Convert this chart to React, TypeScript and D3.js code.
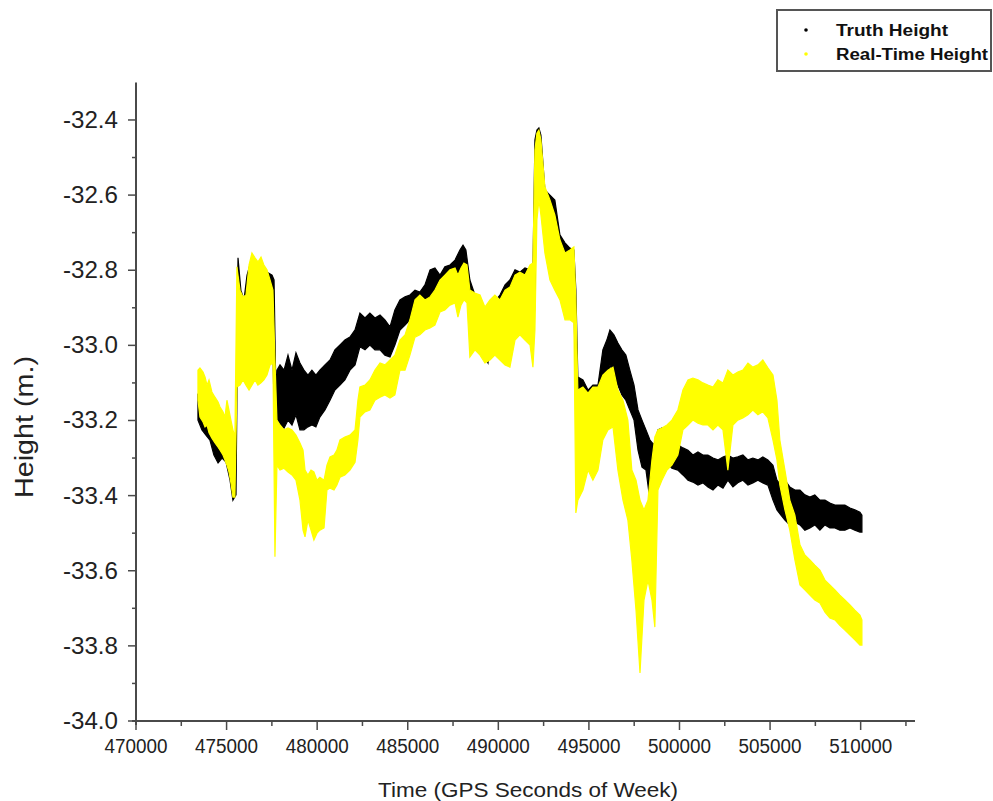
import React from 'react';
import * as d3 from 'd3';

// [GPS seconds of week, upper height, lower height] — envelope of the dense point cloud
const truthHeight: [number, number, number][] = [
  [473420, -33.132, -33.199], [473640, -33.146, -33.225], [473860, -33.172, -33.239], [474080, -33.199, -33.252],
  [474300, -33.212, -33.292], [474530, -33.217, -33.313], [474750, -33.225, -33.300], [474970, -33.233, -33.311],
  [475190, -33.252, -33.359], [475350, -33.265, -33.412], [475520, -33.292, -33.398],
  [475630, -32.767, -32.853], [475790, -32.853, -33.039], [475960, -32.879, -33.039], [476130, -32.813, -32.932],
  [476290, -32.786, -32.879], [476460, -32.786, -32.853], [476620, -32.778, -32.839], [476840, -32.794, -32.853],
  [477060, -32.799, -32.853], [477290, -32.807, -32.853], [477510, -32.813, -32.879], [477620, -32.826, -33.172],
  [477730, -33.146, -33.225],
  [477780, -33.066, -33.199], [477950, -33.052, -33.212], [478170, -33.066, -33.220], [478390, -33.026, -33.199],
  [478610, -33.066, -33.212], [478830, -33.020, -33.185], [479050, -33.047, -33.225], [479270, -33.066, -33.225],
  [479490, -33.079, -33.217], [479710, -33.066, -33.212], [479930, -33.079, -33.217], [480150, -33.066, -33.191],
  [480430, -33.052, -33.172], [480710, -33.039, -33.146], [480980, -33.012, -33.119], [481260, -32.999, -33.106],
  [481530, -32.986, -33.092], [481810, -32.978, -33.066], [482090, -32.959, -33.052], [482360, -32.914, -33.004],
  [482640, -32.927, -33.012], [482910, -32.914, -32.999], [483190, -32.927, -33.012], [483470, -32.919, -33.012],
  [483740, -32.932, -33.026], [484020, -32.951, -33.031], [484290, -32.906, -32.999], [484570, -32.879, -32.959],
  [484850, -32.871, -32.946], [485120, -32.866, -32.932], [485400, -32.853, -32.925], [485670, -32.858, -32.919],
  [485950, -32.839, -32.906], [486230, -32.799, -32.879], [486500, -32.794, -32.874], [486780, -32.813, -32.879],
  [487050, -32.791, -32.871], [487330, -32.786, -32.853], [487610, -32.773, -32.839], [487880, -32.746, -32.826],
  [488050, -32.733, -32.813], [488210, -32.746, -32.826], [488430, -32.826, -32.906], [488710, -32.866, -32.932],
  [488990, -32.879, -32.946], [489210, -32.932, -33.026], [489430, -32.946, -33.047], [489650, -32.893, -32.959],
  [489870, -32.879, -32.938], [490090, -32.866, -32.927], [490370, -32.839, -32.914], [490640, -32.826, -32.893],
  [490920, -32.799, -32.871], [491190, -32.805, -32.866], [491470, -32.794, -32.866], [491750, -32.799, -32.879],
  [491910, -32.799, -33.012], [492020, -32.453, -32.879], [492130, -32.427, -32.480], [492240, -32.421, -32.480],
  [492350, -32.440, -32.506], [492570, -32.586, -32.653], [492850, -32.600, -32.666], [493120, -32.613, -32.680],
  [493400, -32.706, -32.786], [493680, -32.727, -32.826], [493950, -32.741, -32.845], [494170, -32.746, -32.853],
  [494280, -32.853, -33.199], [494390, -33.084, -33.199], [494670, -33.092, -33.212], [494950, -33.119, -33.252],
  [495220, -33.106, -33.239], [495500, -33.106, -33.252], [495770, -33.012, -33.119], [495990, -32.986, -33.092],
  [496160, -32.959, -33.052], [496380, -32.972, -33.079], [496600, -32.994, -33.106], [496820, -33.012, -33.132],
  [497040, -33.026, -33.146], [497260, -33.066, -33.172], [497490, -33.106, -33.199], [497710, -33.172, -33.279],
  [497930, -33.199, -33.324], [498150, -33.225, -33.332], [498370, -33.252, -33.412], [498590, -33.265, -33.438],
  [498810, -33.225, -33.305], [499030, -33.220, -33.300], [499310, -33.239, -33.313], [499580, -33.260, -33.327],
  [499910, -33.265, -33.332], [500190, -33.273, -33.345], [500470, -33.279, -33.359], [500740, -33.292, -33.364],
  [501020, -33.284, -33.372], [501290, -33.292, -33.366], [501570, -33.292, -33.377], [501850, -33.300, -33.385],
  [502120, -33.305, -33.372], [502400, -33.297, -33.380], [502670, -33.292, -33.359], [502950, -33.300, -33.377],
  [503220, -33.297, -33.366], [503500, -33.292, -33.359], [503780, -33.305, -33.372], [504050, -33.300, -33.366],
  [504330, -33.305, -33.359], [504600, -33.297, -33.366], [504880, -33.305, -33.372], [505160, -33.319, -33.412],
  [505380, -33.359, -33.438], [505600, -33.372, -33.452], [505820, -33.359, -33.465], [506090, -33.377, -33.478],
  [506370, -33.385, -33.470], [506650, -33.385, -33.478], [506920, -33.398, -33.492], [507200, -33.404, -33.486],
  [507470, -33.398, -33.478], [507750, -33.412, -33.492], [508030, -33.412, -33.478], [508300, -33.420, -33.486],
  [508580, -33.425, -33.486], [508850, -33.425, -33.492], [509130, -33.425, -33.492], [509410, -33.433, -33.486],
  [509680, -33.438, -33.492], [509960, -33.444, -33.497], [510070, -33.452, -33.497],
];

const realTimeHeight: [number, number, number][] = [
  [473420, -33.066, -33.146], [473530, -33.060, -33.191], [473700, -33.071, -33.204], [473810, -33.084, -33.217],
  [473920, -33.106, -33.212], [474030, -33.092, -33.233], [474190, -33.124, -33.247], [474360, -33.138, -33.260],
  [474530, -33.151, -33.271], [474640, -33.164, -33.279], [474800, -33.177, -33.292], [474910, -33.191, -33.305],
  [475020, -33.146, -33.319], [475130, -33.172, -33.337], [475240, -33.199, -33.366], [475350, -33.225, -33.404],
  [475460, -33.244, -33.404],
  [475570, -32.791, -33.111], [475740, -32.853, -33.106], [475910, -32.871, -33.092], [476070, -32.866, -33.106],
  [476240, -32.786, -33.119], [476400, -32.754, -33.106], [476570, -32.767, -33.092], [476730, -32.778, -33.106],
  [476900, -32.765, -33.100], [477060, -32.786, -33.092], [477230, -32.799, -33.079], [477400, -32.826, -33.052],
  [477560, -32.853, -33.047], [477670, -33.039, -33.563],
  [477780, -33.199, -33.319], [477950, -33.212, -33.332], [478170, -33.225, -33.327], [478390, -33.220, -33.337],
  [478610, -33.225, -33.345], [478830, -33.239, -33.359], [479050, -33.260, -33.412], [479220, -33.279, -33.492],
  [479330, -33.332, -33.510], [479490, -33.345, -33.465], [479660, -33.332, -33.492], [479820, -33.337, -33.518],
  [479990, -33.359, -33.500], [480150, -33.351, -33.492], [480380, -33.359, -33.486], [480540, -33.319, -33.385],
  [480710, -33.297, -33.380], [480930, -33.292, -33.385], [481090, -33.279, -33.372], [481260, -33.252, -33.351],
  [481530, -33.244, -33.345], [481810, -33.239, -33.332], [482090, -33.225, -33.311], [482250, -33.146, -33.252],
  [482360, -33.111, -33.191], [482640, -33.106, -33.177], [482910, -33.092, -33.172], [483190, -33.066, -33.146],
  [483470, -33.047, -33.138], [483740, -33.052, -33.132], [484020, -33.039, -33.140], [484290, -33.026, -33.132],
  [484570, -32.986, -33.066], [484850, -32.972, -33.066], [485120, -32.932, -33.026], [485400, -32.879, -32.978],
  [485670, -32.866, -32.972], [485950, -32.879, -32.959], [486230, -32.871, -32.954], [486500, -32.853, -32.946],
  [486780, -32.826, -32.911], [487050, -32.813, -32.906], [487330, -32.799, -32.893], [487610, -32.794, -32.887],
  [487770, -32.813, -32.925], [487940, -32.794, -32.893], [488100, -32.781, -32.879], [488270, -32.786, -32.887],
  [488430, -32.853, -33.031], [488710, -32.861, -33.012], [488990, -32.866, -33.026], [489260, -32.898, -33.047],
  [489540, -32.879, -33.039], [489810, -32.866, -33.026], [490090, -32.879, -33.039], [490370, -32.853, -33.052],
  [490640, -32.845, -33.058], [490920, -32.813, -32.986], [491190, -32.805, -32.972], [491470, -32.813, -32.986],
  [491750, -32.786, -32.999], [491910, -32.781, -33.058], [492020, -32.480, -32.959], [492130, -32.435, -32.666],
  [492240, -32.427, -32.613], [492350, -32.453, -32.653], [492570, -32.578, -32.754], [492850, -32.613, -32.826],
  [493120, -32.653, -32.853], [493400, -32.719, -32.879], [493680, -32.754, -32.932], [493950, -32.746, -32.932],
  [494170, -32.738, -32.940], [494280, -32.879, -33.446], [494390, -33.119, -33.412], [494670, -33.111, -33.385],
  [494950, -33.127, -33.332], [495220, -33.111, -33.359], [495500, -33.111, -33.332], [495770, -33.079, -33.252],
  [496050, -33.066, -33.225], [496330, -33.058, -33.217], [496600, -33.119, -33.332], [496880, -33.146, -33.412],
  [497150, -33.199, -33.465], [497370, -33.332, -33.571], [497600, -33.359, -33.705], [497820, -33.412, -33.872],
  [498040, -33.438, -33.678], [498260, -33.412, -33.625], [498480, -33.305, -33.678], [498640, -33.244, -33.750],
  [498810, -33.225, -33.385], [499030, -33.220, -33.359], [499310, -33.212, -33.332], [499580, -33.199, -33.319],
  [499910, -33.172, -33.292], [500190, -33.119, -33.225], [500470, -33.092, -33.212], [500740, -33.087, -33.199],
  [501020, -33.092, -33.207], [501290, -33.100, -33.212], [501570, -33.106, -33.212], [501850, -33.111, -33.225],
  [502120, -33.092, -33.212], [502400, -33.100, -33.225], [502670, -33.066, -33.332], [502950, -33.079, -33.212],
  [503220, -33.071, -33.199], [503500, -33.066, -33.193], [503780, -33.047, -33.185], [504050, -33.058, -33.172],
  [504330, -33.052, -33.185], [504600, -33.039, -33.177], [504880, -33.060, -33.193], [505160, -33.079, -33.252],
  [505380, -33.146, -33.305], [505540, -33.252, -33.372], [505820, -33.332, -33.438], [506090, -33.412, -33.492],
  [506370, -33.452, -33.571], [506650, -33.531, -33.638], [506920, -33.558, -33.651], [507200, -33.571, -33.665],
  [507470, -33.585, -33.678], [507750, -33.598, -33.686], [508030, -33.625, -33.710], [508300, -33.638, -33.726],
  [508580, -33.651, -33.731], [508850, -33.665, -33.745], [509130, -33.678, -33.758], [509410, -33.691, -33.771],
  [509680, -33.705, -33.784], [509960, -33.718, -33.798], [510070, -33.731, -33.798],
];

const xTickValues = [470000, 475000, 480000, 485000, 490000, 495000, 500000, 505000, 510000];
const yTickValues = [-34.0, -33.8, -33.6, -33.4, -33.2, -33.0, -32.8, -32.6, -32.4];
const seriesNames = ['Truth Height', 'Real-Time Height'];
const seriesColors = ['#000000', '#ffff00'];

export default function App() {
  const W = 993;
  const H = 801;
  const x = d3.scaleLinear().domain([470000, 513000]).range([136, 915]);
  const y = d3.scaleLinear().domain([-34.0, -32.3]).range([721, 82.4]);

  const area = d3
    .area<[number, number, number]>()
    .x((d) => x(d[0]))
    .y0((d) => y(d[2]))
    .y1((d) => y(d[1]))
    .curve(d3.curveLinear);

  const xMinor = d3.range(470000, 513001, 2500).filter((v) => v % 5000 !== 0);
  const yMinor = d3.range(0, 17).map((i) => -34.0 + i * 0.1).filter((_, i) => i % 2 === 1);

  const axisColor = '#4a4a4a';
  const font = 'Arial, "Liberation Sans", Helvetica, sans-serif';

  return (
    <svg
      width={W}
      height={H}
      style={{ position: 'absolute', left: 0, top: 0, background: '#fff' }}
      fontFamily={font}
    >
      {/* data clouds */}
      <path d={area(truthHeight) || ''} fill={seriesColors[0]} stroke={seriesColors[0]} strokeWidth={1.2} />
      <path d={area(realTimeHeight) || ''} fill={seriesColors[1]} stroke={seriesColors[1]} strokeWidth={1.2} />

      {/* y axis */}
      <line x1={x(470000)} x2={x(470000)} y1={y(-32.3)} y2={y(-34.0) + 4} stroke={axisColor} strokeWidth={2} />
      {yTickValues.map((v) => (
        <g key={'yt' + v}>
          <line x1={x(470000) - 8} x2={x(470000)} y1={y(v)} y2={y(v)} stroke={axisColor} strokeWidth={1.5} />
          <text
            x={118}
            y={y(v)}
            textAnchor="end"
            dominantBaseline="central"
            fontSize={23}
            fill="#222"
            textLength={55}
            lengthAdjust="spacingAndGlyphs"
          >
            {v.toFixed(1)}
          </text>
        </g>
      ))}
      {yMinor.map((v) => (
        <line key={'ym' + v} x1={x(470000) - 4} x2={x(470000)} y1={y(v)} y2={y(v)} stroke={axisColor} strokeWidth={1.5} />
      ))}

      {/* x axis */}
      <line x1={x(470000) - 4} x2={x(513000)} y1={y(-34.0)} y2={y(-34.0)} stroke={axisColor} strokeWidth={2} />
      {xTickValues.map((v) => (
        <g key={'xt' + v}>
          <line x1={x(v)} x2={x(v)} y1={y(-34.0)} y2={y(-34.0) + 9} stroke={axisColor} strokeWidth={1.5} />
          <text
            x={x(v)}
            y={753}
            textAnchor="middle"
            fontSize={20}
            fill="#222"
            textLength={63}
            lengthAdjust="spacingAndGlyphs"
          >
            {v}
          </text>
        </g>
      ))}
      {xMinor.map((v) => (
        <line key={'xm' + v} x1={x(v)} x2={x(v)} y1={y(-34.0)} y2={y(-34.0) + 5} stroke={axisColor} strokeWidth={1.5} />
      ))}

      {/* axis titles */}
      <text
        x={528}
        y={797}
        textAnchor="middle"
        fontSize={21}
        fill="#222"
        textLength={300}
        lengthAdjust="spacingAndGlyphs"
      >
        Time (GPS Seconds of Week)
      </text>
      <text
        transform="translate(33,427) rotate(-90)"
        textAnchor="middle"
        fontSize={25}
        fill="#222"
        textLength={142}
        lengthAdjust="spacingAndGlyphs"
      >
        Height (m.)
      </text>

      {/* legend */}
      <rect x={777} y={10} width={214} height={61} fill="#fff" stroke="#555" strokeWidth={2} />
      {seriesNames.map((name, i) => (
        <g key={name}>
          <circle cx={806} cy={30 + i * 24} r={1.8} fill={seriesColors[i]} />
          <text
            x={836}
            y={36 + i * 24}
            fontSize={16}
            fontWeight="bold"
            fill="#111"
            textLength={i === 0 ? 112 : 152}
            lengthAdjust="spacingAndGlyphs"
          >
            {name}
          </text>
        </g>
      ))}
    </svg>
  );
}
